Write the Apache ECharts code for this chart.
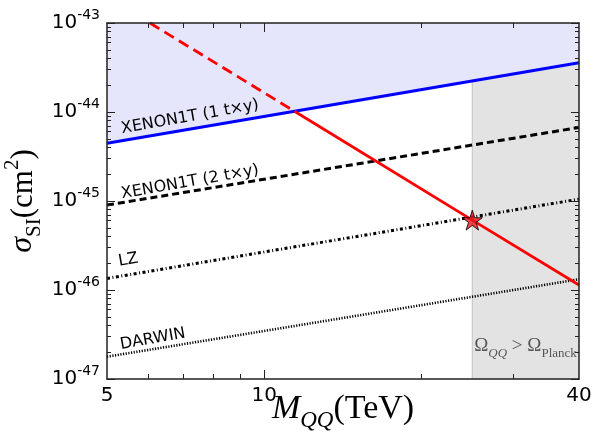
<!DOCTYPE html>
<html><head><meta charset="utf-8">
<script src="https://cdn.jsdelivr.net/npm/echarts@6/dist/echarts.min.js"></script>
<style>html,body{margin:0;padding:0;background:#fff}#c{width:593px;height:441px}</style>
</head><body><div id="c"></div>
<script>
// ---- data (sigma in cm^2, mass in TeV) ----
const Y_UNIT = 1e-47;
const xLimits = [5, 40];
const yLimits = [1e-47, 1e-43];
const xLabelTicks = [5, 10, 40];
const xMajorTicks = [10];
const xMinorTicks = [6, 7, 8, 9, 20, 30];
const yDecadeExponents = [-47, -46, -45, -44, -43];
const yMinorMultipliers = [2, 3, 4, 5, 6, 7, 8, 9];

const limitMass = [5, 40];
const xenon1t1ty = [4.45e-45, 3.58e-44];
const xenon1t2ty = [9.0e-46, 6.7e-45];
const lzSens = [1.35e-46, 1.05e-45];
const darwinSens = [1.78e-47, 1.32e-46];

const predMassDashed = [6.04, 11.42];
const predSigmaDashed = [1e-43, 1.02e-44];
const predMassSolid = [11.42, 25, 40];
const predSigmaSolid = [1.02e-44, 6.1e-46, 1.14e-46];

const starMass = [25];
const starSigma = [6.1e-46];

const overMass = [25, 40];
const overTopSigma = [2.22e-44, 3.58e-44];

const labelTexts = ['XENON1T (1 t×y)', 'XENON1T (2 t×y)', 'LZ', 'DARWIN'];
const labelMass = [7.21, 7.21, 5.49, 6.12];
const labelSigma = [8.79e-45, 1.63e-45, 2.17e-46, 2.81e-47];
const omegaMass = [31.6];
const omegaSigma = [2.1e-47];

// ---- build ----
const expOffset = Math.round(Math.log10(Y_UNIT));
const toU = s => Number((s / Y_UNIT).toPrecision(12));
const pts = (xs, ys) => xs.map((x, i) => [x, toU(ys[i])]);
const yMajor = yDecadeExponents.map(e => toU(Math.pow(10, e)));
const yMinor = [];
yDecadeExponents.slice(0, -1).forEach(e => yMinorMultipliers.forEach(k => yMinor.push(toU(k * Math.pow(10, e)))));

const AX = '#222';
const tickStyle = {color: AX, width: 1};
const baseX = {type: 'log', logBase: 10, min: xLimits[0], max: xLimits[1], splitLine: {show: false}, z: 10,
  axisLine: {show: false}, axisLabel: {show: false}, axisTick: {show: false}};
const baseY = {type: 'log', logBase: 10, min: toU(yLimits[0]), max: toU(yLimits[1]), splitLine: {show: false}, z: 10,
  axisLine: {show: false}, axisLabel: {show: false}, axisTick: {show: false}};

const serif = 'Liberation Serif';
const option = {
  animation: false,
  backgroundColor: '#fff',
  grid: {left: 107, right: 14, top: 23, bottom: 62, outerBoundsMode: 'none', containLabel: false},
  xAxis: [
    Object.assign({}, baseX, {
      position: 'bottom',
      axisLine: {show: true, lineStyle: {color: AX, width: 1.5}},
      axisTick: {show: true, inside: true, length: 9, customValues: xMajorTicks, lineStyle: tickStyle},
      axisLabel: {show: true, customValues: xLabelTicks, formatter: v => String(Math.round(v)),
        fontSize: 20, color: '#000', fontFamily: 'DejaVu Sans', margin: 7},
      name: '{m|M}{sub|QQ}{t|(TeV)}', nameLocation: 'middle', nameGap: 19, nameMoveOverlap: false,
      nameTextStyle: {verticalAlign: 'top', rich: {
        m: {fontFamily: serif, fontStyle: 'italic', fontSize: 34, color: '#000', lineHeight: 34, verticalAlign: 'bottom', padding: [0, 0, 6, 0]},
        sub: {fontFamily: serif, fontStyle: 'italic', fontSize: 23, color: '#000', lineHeight: 23, verticalAlign: 'bottom'},
        t: {fontFamily: serif, fontSize: 34, color: '#000', lineHeight: 34, verticalAlign: 'bottom', padding: [0, 0, 6, 0]}
      }}
    }),
    Object.assign({}, baseX, {position: 'bottom', axisTick: {show: true, inside: true, length: 5, customValues: xMinorTicks, lineStyle: tickStyle}}),
    Object.assign({}, baseX, {position: 'top', axisLine: {show: true, lineStyle: {color: AX, width: 1.5}},
      axisTick: {show: true, inside: true, length: 9, customValues: xMajorTicks, lineStyle: tickStyle}}),
    Object.assign({}, baseX, {position: 'top', axisTick: {show: true, inside: true, length: 5, customValues: xMinorTicks, lineStyle: tickStyle}})
  ],
  yAxis: [
    Object.assign({}, baseY, {
      position: 'left',
      axisLine: {show: true, lineStyle: {color: AX, width: 1.5}},
      axisTick: {show: true, inside: true, length: 8, customValues: yMajor, lineStyle: tickStyle},
      axisLabel: {show: true, customValues: yMajor, margin: 7,
        formatter: v => '{b|10}{s|' + (Math.round(Math.log10(v)) + expOffset) + '}',
        rich: {
          b: {fontFamily: 'DejaVu Sans', fontSize: 20, color: '#000', lineHeight: 20, verticalAlign: 'bottom'},
          s: {fontFamily: 'DejaVu Sans', fontSize: 14, color: '#000', lineHeight: 14, verticalAlign: 'bottom', padding: [0, 0, 11, 0]}
        }},
      name: '{sig|σ}{sub|SI}{t|(cm}{sup|2}{t|)}', nameLocation: 'middle', nameGap: 62, nameRotate: 90, nameMoveOverlap: false,
      nameTextStyle: {rich: {
        sig: {fontFamily: serif, fontStyle: 'italic', fontSize: 32, color: '#000', lineHeight: 32, verticalAlign: 'bottom', padding: [0, 0, 6, 0]},
        sub: {fontFamily: serif, fontSize: 21, color: '#000', lineHeight: 21, verticalAlign: 'bottom'},
        t: {fontFamily: serif, fontSize: 31, color: '#000', lineHeight: 31, verticalAlign: 'bottom', padding: [0, 0, 6, 0]},
        sup: {fontFamily: serif, fontSize: 21, color: '#000', lineHeight: 21, verticalAlign: 'bottom', padding: [0, 0, 22, 0]}
      }}
    }),
    Object.assign({}, baseY, {position: 'left', axisTick: {show: true, inside: true, length: 4, customValues: yMinor, lineStyle: tickStyle}}),
    Object.assign({}, baseY, {position: 'right', axisLine: {show: true, lineStyle: {color: AX, width: 1.5}},
      axisTick: {show: true, inside: true, length: 8, customValues: yMajor, lineStyle: tickStyle}}),
    Object.assign({}, baseY, {position: 'right', axisTick: {show: true, inside: true, length: 4, customValues: yMinor, lineStyle: tickStyle}})
  ],
  series: [
    {type: 'line', data: pts(limitMass, xenon1t1ty), symbol: 'none', silent: true, z: 1,
      lineStyle: {width: 0}, areaStyle: {origin: 'end', color: '#e5e5fb', opacity: 1}},
    {type: 'line', data: pts(overMass, overTopSigma), symbol: 'none', silent: true, z: 1,
      lineStyle: {width: 0}, areaStyle: {origin: 'start', color: '#e3e3e3', opacity: 1}},
    {type: 'line', data: [[overMass[0], toU(yLimits[0])], [overMass[0], toU(overTopSigma[0])]], symbol: 'none', silent: true, z: 2,
      lineStyle: {width: 1.2, color: '#c8c8c8'}},
    {type: 'line', data: pts(limitMass, xenon1t1ty), symbol: 'none', silent: true, z: 3,
      lineStyle: {width: 3, color: '#0000ff'}},
    {type: 'line', data: pts(limitMass, xenon1t2ty), symbol: 'none', silent: true, z: 3,
      lineStyle: {width: 3, color: '#000', type: [7, 4]}},
    {type: 'line', data: pts(limitMass, lzSens), symbol: 'none', silent: true, z: 3,
      lineStyle: {width: 3, color: '#000', type: [3, 2.5, 1, 2.5]}},
    {type: 'line', data: pts(limitMass, darwinSens), symbol: 'none', silent: true, z: 3,
      lineStyle: {width: 2.6, color: '#000', type: [1.2, 1.5]}},
    {type: 'line', data: pts(predMassDashed, predSigmaDashed), symbol: 'none', silent: true, z: 4,
      lineStyle: {width: 2.8, color: '#ff0000', type: [11, 6]}},
    {type: 'line', data: pts(predMassSolid, predSigmaSolid), symbol: 'none', silent: true, z: 4,
      lineStyle: {width: 2.8, color: '#ff0000'}},
    {type: 'scatter', data: pts(starMass, starSigma), silent: true, z: 6,
      symbol: 'path://M100,0L122.5,69.1L195.1,69.1L136.3,111.8L158.8,180.9L100,138.2L41.2,180.9L63.7,111.8L4.9,69.1L77.5,69.1Z',
      symbolSize: 20, itemStyle: {color: '#e8141b', borderColor: '#000', borderWidth: 1}},
    {type: 'scatter', silent: true, z: 7, symbolSize: 1, itemStyle: {color: 'rgba(0,0,0,0)'},
      data: labelTexts.map((t, i) => ({value: [labelMass[i], toU(labelSigma[i])], name: t})),
      label: {show: true, position: 'inside', formatter: p => p.name, rotate: 10, fontFamily: 'DejaVu Sans', fontSize: 16, color: '#000', opacity: 1}},
    {type: 'scatter', silent: true, z: 7, symbolSize: 1, itemStyle: {color: 'rgba(0,0,0,0)'},
      data: pts(omegaMass, omegaSigma),
      label: {show: true, position: 'inside', formatter: '{o|Ω}{q|QQ}{o| > Ω}{p|Planck}',
        rich: {
          o: {fontFamily: serif, fontSize: 19, color: '#333', lineHeight: 19, verticalAlign: 'bottom', padding: [0, 0, 4, 0]},
          q: {fontFamily: serif, fontStyle: 'italic', fontSize: 13, color: '#333', lineHeight: 13, verticalAlign: 'bottom'},
          p: {fontFamily: serif, fontSize: 13, color: '#333', lineHeight: 13, verticalAlign: 'bottom'}
        }}}
  ]
};
const chart = echarts.init(document.getElementById('c'), null, {renderer: 'canvas'});
chart.setOption(option);
</script></body></html>
